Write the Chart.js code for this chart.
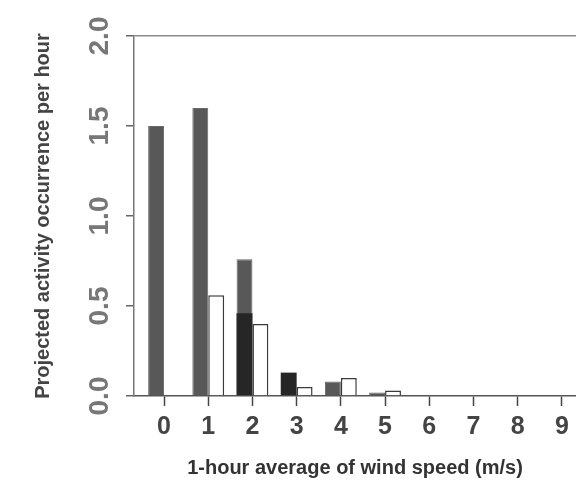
<!DOCTYPE html>
<html><head><meta charset="utf-8">
<script src="https://cdn.jsdelivr.net/npm/chart.js@4/dist/chart.umd.min.js"></script>
<style>html,body{margin:0;padding:0;background:#fff;}#wrap{width:576px;height:487px;}</style>
</head><body><div id="wrap"><canvas id="c" width="576" height="487"></canvas></div>
<script>
const windSpeeds = [0,1,2,3,4,5,6,7,8,9];
const grayValues = [1.50,1.60,0.76,0,0.08,0.02,0,0,0,0];
const blackValues = [0,0,0.46,0.13,0,0,0,0,0,0];
const whiteValues = [0,0.56,0.40,0.05,0.10,0.03,0,0,0,0];
const yTicks = [0,0.5,1.0,1.5,2.0];

const pts = v => windSpeeds.map((x,i)=>({x:x,y:v[i]}));

new Chart(document.getElementById('c'), {
  type:'bar',
  data:{datasets:[
    {label:'black', data:pts(blackValues), stack:'a', order:0, backgroundColor:'#262626', borderWidth:0},
    {label:'gray', data:pts(grayValues), stack:'a', order:1, backgroundColor:'#585858', borderColor:'#6a6a6a', borderWidth:1},
    {label:'white', data:pts(whiteValues), stack:'b', order:2, backgroundColor:'#ffffff', borderColor:'#3a3a3a', borderWidth:1.5}
  ]},
  options:{
    responsive:false, animation:false,
    layout:{padding:{top:36,right:0,left:0,bottom:0}},
    plugins:{legend:{display:false},tooltip:{enabled:false}},
    datasets:{bar:{categoryPercentage:0.72,barPercentage:1.0}},
    scales:{
      x:{type:'linear', stacked:true, min:-0.68, max:9.32, offset:false,
        afterBuildTicks: s => { s.ticks = windSpeeds.map(v=>({value:v})); },
        grid:{drawOnChartArea:false, offset:false, tickLength:10, tickColor:'#444', tickWidth:1.5},
        border:{color:'#555', width:1.5},
        ticks:{color:'#444', font:{family:'Liberation Sans', size:25, weight:'bold'}, padding:6, callback:v=>String(v), maxRotation:0, autoSkip:false},
        title:{display:true, text:'1-hour average of wind speed (m/s)', color:'#333', font:{family:'Liberation Sans', size:20, weight:'bold'}, padding:{top:0,bottom:7}},
        afterFit: s => { s.height = 91; }
      },
      y:{stacked:false, min:0, max:2,
        afterBuildTicks: s => { s.ticks = yTicks.map(v=>({value:v})); },
        grid:{drawOnChartArea:true, color: c => (c.tick && c.tick.value===2) ? '#8a8a8a' : 'rgba(0,0,0,0)', lineWidth:1.5, tickLength:8, tickColor:'#666'},
        border:{color:'#777', width:1.5},
        ticks:{color:'#777', font:{family:'Liberation Sans', size:28, weight:'bold'}, minRotation:90, maxRotation:90, crossAlign:'center', padding:6, callback:v=>v.toFixed(1)},
        title:{display:true, text:'Projected activity occurrence per hour', color:'#444', font:{family:'Liberation Sans', size:20, weight:'bold'}, padding:{top:31,bottom:0}},
        afterFit: s => { s.width = 134; }
      }
    }
  }
});
</script></body></html>
